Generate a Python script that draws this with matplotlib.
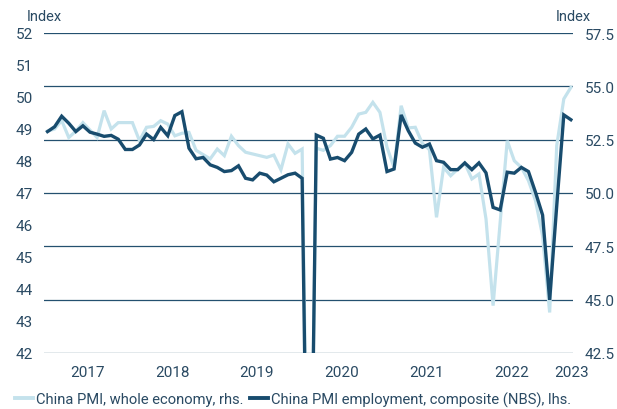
import matplotlib
matplotlib.use("Agg")
import matplotlib.pyplot as plt
import numpy as np
from matplotlib.lines import Line2D

# Monthly data Jan 2017 - Mar 2023
start_year = 2017
employment_lhs = [
    48.92, 49.07, 49.40, 49.18, 48.92, 49.10, 48.90, 48.84, 48.77, 48.80, 48.68, 48.36,
    48.36, 48.50, 48.84, 48.67, 49.05, 48.79, 49.42, 49.54, 48.40, 48.07, 48.11, 47.88,
    47.80, 47.67, 47.70, 47.85, 47.46, 47.41, 47.62, 47.56, 47.35, 47.46, 47.57, 47.62,
    47.46, 32.00, 48.81, 48.71, 48.06, 48.11, 48.01, 48.27, 48.84, 49.00, 48.69, 48.81,
    47.67, 47.75, 49.44, 48.95, 48.56, 48.43, 48.53, 48.01, 47.96, 47.73, 47.73, 47.94,
    47.73, 47.94, 47.63, 46.55, 46.47, 47.65, 47.62, 47.80, 47.67, 47.02, 46.31, 43.66,
    46.60, 49.44, 49.29,
]
pmi_whole_rhs = [
    52.90, 53.00, 53.40, 52.60, 52.90, 53.30, 52.95, 52.60, 53.86, 53.00, 53.30, 53.30,
    53.30, 52.45, 53.08, 53.12, 53.39, 53.23, 52.68, 52.80, 52.84, 52.00, 51.80, 51.60,
    52.06, 51.75, 52.66, 52.22, 51.91, 51.83, 51.75, 51.67, 51.78, 51.09, 52.30, 51.86,
    52.06, 29.00, 52.10, 52.00, 52.22, 52.66, 52.66, 53.08, 53.70, 53.78, 54.25, 53.78,
    52.14, 51.20, 54.09, 53.05, 53.08, 52.32, 52.03, 48.86, 51.20, 50.81, 51.12, 51.40,
    50.66, 50.89, 48.78, 44.72, 48.63, 52.45, 51.51, 51.20, 50.58, 49.64, 47.99, 44.40,
    52.22, 54.41, 54.95,
]
year_labels = ["2017", "2018", "2019", "2020", "2021", "2022", "2023"]
left_ticks = [42, 43, 44, 45, 46, 47, 48, 49, 50, 51, 52]
right_ticks = [42.5, 45.0, 47.5, 50.0, 52.5, 55.0, 57.5]
legend_labels = ["China PMI, whole economy, rhs.",
                 "China PMI employment, composite (NBS), lhs."]

DARK = "#184c6e"
LIGHT = "#c4e2ec"
GRID = "#24506f"
TEXT = "#2a4a63"
FONT = ["Roboto", "DejaVu Sans"]
plt.rcParams["font.family"] = FONT

x = np.arange(len(employment_lhs))

fig = plt.figure(figsize=(6.17, 4.10), dpi=100)
ax = fig.add_axes([44/617, 1-354/410, (573-44)/617, (354-34)/410])
ax2 = ax.twinx()

ax2.plot(x, pmi_whole_rhs, color=LIGHT, lw=2.3, solid_joinstyle="miter")
ax.plot(x, employment_lhs, color=DARK, lw=2.4, solid_joinstyle="miter")

ax.set_zorder(ax2.get_zorder() + 1)
ax.patch.set_visible(False)

ax.set_xlim(-0.5, 74.3)
ax.set_ylim(42, 52)
ax2.set_ylim(42.5, 57.5)

ax.set_yticks(left_ticks)
ax.set_yticklabels([str(t) for t in left_ticks])
ax2.set_yticks(right_ticks)
ax2.set_yticklabels([f"{t:.1f}" for t in right_ticks])

year_pos = [5.6 + 12 * i for i in range(len(year_labels) - 1)] + [74.1]
ax.set_xticks(year_pos)
ax.set_xticklabels(year_labels)

for a in (ax, ax2):
    for s in a.spines.values():
        s.set_visible(False)
    a.tick_params(length=0, colors=TEXT, labelsize=11)
ax.tick_params(axis="y", pad=8)
ax2.tick_params(axis="y", pad=8.5)
ax.tick_params(axis="x", pad=9)

ax2.grid(axis="y", color=GRID, lw=0.9)
ax2.set_axisbelow(True)

fig.text(27/617, 1-17/410, "Index", color=TEXT, fontsize=10.5, va="center", ha="left")
fig.text(591/617, 1-17/410, "Index", color=TEXT, fontsize=10.5, va="center", ha="right")

handles = [Line2D([], [], color=LIGHT, lw=2.8), Line2D([], [], color=DARK, lw=2.8)]
leg = fig.legend(handles, legend_labels, loc="center left", bbox_to_anchor=(15/617, 1-400/410),
                 ncol=2, frameon=False, fontsize=10.6, handlelength=1.2, handletextpad=0.2,
                 columnspacing=0.5, borderaxespad=0, borderpad=0)
for t in leg.get_texts():
    t.set_color(TEXT)

fig.savefig("out.png", dpi=100, facecolor="white")
